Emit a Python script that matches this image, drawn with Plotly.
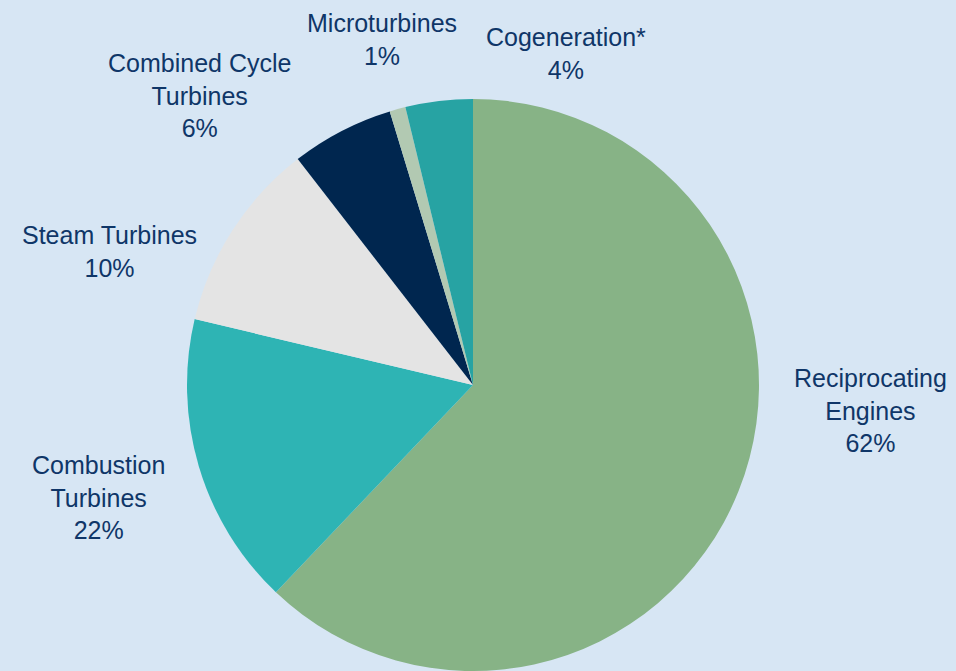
import plotly.graph_objects as go

# Slice data (slice sizes; label percentages as printed)
labels = ["Reciprocating Engines", "Combustion Turbines", "Steam Turbines",
          "Combined Cycle Turbines", "Microturbines", "Cogeneration*"]
label_text = ["Reciprocating<br>Engines", "Combustion<br>Turbines", "Steam Turbines",
              "Combined Cycle<br>Turbines", "Microturbines", "Cogeneration*"]
values = [62.1, 16.6, 10.8, 5.8, 0.9, 3.8]
pct_labels = ["62%", "22%", "10%", "6%", "1%", "4%"]
colors = ["#87B386", "#2EB4B4", "#E4E4E4", "#00264F", "#B2C9B2", "#27A3A3"]

W, H = 956, 671
cx, cy, r = 473, 385, 286

fig = go.Figure(go.Pie(
    labels=labels,
    values=values,
    sort=False,
    direction="clockwise",
    rotation=0,
    marker=dict(colors=colors, line=dict(width=0)),
    textinfo="none",
    hoverinfo="label+percent",
    showlegend=False,
    domain=dict(x=[(cx - r) / W, (cx + r) / W],
                y=[(H - cy - r) / H, (H - cy + r) / H]),
))

# label placement (pixel centers of label blocks)
label_pos = [(870, 410), (98, 497), (109, 251), (199, 95), (382, 40), (566, 53)]
for txt, pct, (px, py) in zip(label_text, pct_labels, label_pos):
    fig.add_annotation(
        text=f"{txt}<br>{pct}",
        x=px / W, y=1 - py / H, xref="paper", yref="paper",
        xanchor="center", yanchor="middle", showarrow=False,
        font=dict(family="Liberation Sans, Arial, sans-serif", size=25, color="#0F3668"),
        align="center",
    )

fig.update_layout(
    width=W, height=H,
    margin=dict(l=0, r=0, t=0, b=0),
    paper_bgcolor="#D7E6F4",
    plot_bgcolor="#D7E6F4",
)

fig.write_html("out.html")
